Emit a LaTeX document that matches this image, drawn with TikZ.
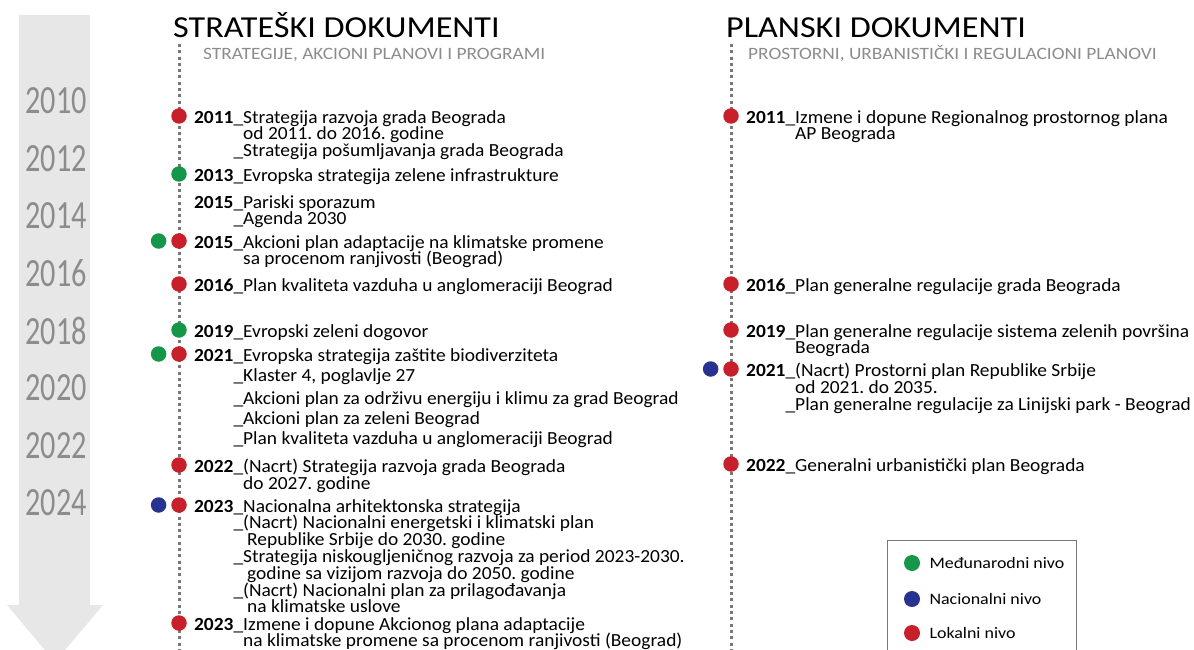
\documentclass[tikz,border=0pt]{standalone}
\usepackage{fontspec}
\setmainfont{Carlito}[FakeStretch=1.05]
\newfontfamily\widefont{Carlito}[FakeStretch=1.12]
\usetikzlibrary{positioning}
\frenchspacing
\definecolor{lokalni}{RGB}{200,32,42}
\definecolor{medjunarodni}{RGB}{22,150,72}
\definecolor{nacionalni}{RGB}{40,50,145}
\definecolor{osa}{RGB}{120,120,120}
\definecolor{strelica}{RGB}{231,231,232}
\definecolor{godina}{RGB}{140,140,140}
\tikzset{
  dot/.style={circle,fill=#1,inner sep=0,minimum size=15.5pt},
  legdot/.style={circle,fill=#1,inner sep=0,minimum size=16pt},
  entry/.style={anchor=north west,inner sep=0,align=left,font=\fontsize{18.5}{16.8}\selectfont},
  timeline/.style={osa,line width=3pt,dash pattern=on 3pt off 3.3pt},
  yearlabel/.style={godina,anchor=east,inner sep=0,xscale=0.72,font=\fontsize{40}{40}\selectfont},
  heading/.style={anchor=base west,inner sep=0,font=\widefont\fontsize{30.5}{30}\selectfont},
  subheading/.style={anchor=base west,inner sep=0,godina,font=\widefont\fontsize{17.3}{17}\selectfont},
  legtext/.style={anchor=west,font=\widefont\fontsize{16}{16}\selectfont}
}
\begin{document}
\begin{tikzpicture}[x=1pt,y=-1pt]
  \useasboundingbox (0,0) rectangle (1194,650);
  \clip (0,0) rectangle (1194,650);
  % strelica vremena
  \fill[strelica] (19,15) -- (90,15) -- (90,605) -- (103,605) -- (55,662) -- (7,605) -- (19,605) -- cycle;
  \foreach \g [count=\i from 0] in {2010,2012,2014,2016,2018,2020,2022,2024}
    \node[yearlabel] (g\g) at (87,{101+57.4*\i}) {\g};
  % naslovi
  \node[heading] (strat) at (173,38) {STRATEŠKI DOKUMENTI};
  \node[subheading] (stratsub) at (203,60) {STRATEGIJE, AKCIONI PLANOVI I PROGRAMI};
  \node[heading] (plan) at (726,38) {PLANSKI DOKUMENTI};
  \node[subheading] (plansub) at (748,60) {PROSTORNI, URBANISTIČKI I REGULACIONI PLANOVI};
  % vremenske ose
  \draw[timeline] (179,44) -- (179,660);
  \draw[timeline] (731,44) -- (731,660);

  % strateski dokumenti
  \node[dot=lokalni] (s2011) at (179,116) {};
  \node[entry] (t2011) at (243,110) {\llap{\textbf{2011}\_}Strategija razvoja grada Beograda\\od 2011. do 2016. godine\\\llap{\_}Strategija pošumljavanja grada Beograda};
  \node[dot=medjunarodni] (s2013) at (179,174) {};
  \node[entry] (t2013) at (243,168) {\llap{\textbf{2013}\_}Evropska strategija zelene infrastrukture};
  \node[entry] (t2015a) at (243,195) {\llap{\textbf{2015}\_}Pariski sporazum\\\llap{\_}Agenda 2030};
  \node[dot=lokalni] (s2015) at (179,241) {};
  \node[dot=medjunarodni,left=4.5pt of s2015] (s2015m) {};
  \node[entry] (t2015b) at (243,235) {\llap{\textbf{2015}\_}Akcioni plan adaptacije na klimatske promene\\sa procenom ranjivosti (Beograd)};
  \node[dot=lokalni] (s2016) at (179,284) {};
  \node[entry] (t2016) at (243,278) {\llap{\textbf{2016}\_}Plan kvaliteta vazduha u anglomeraciji Beograd};
  \node[dot=medjunarodni] (s2019) at (179,330) {};
  \node[entry] (t2019) at (243,324) {\llap{\textbf{2019}\_}Evropski zeleni dogovor};
  \node[dot=lokalni] (s2021) at (179,354) {};
  \node[dot=medjunarodni,left=4.5pt of s2021] (s2021m) {};
  \node[entry] (t2021) at (243,348) {\llap{\textbf{2021}\_}Evropska strategija zaštite biodiverziteta\\[4pt]
    \llap{\_}Klaster 4, poglavlje 27\\[6pt]
    \llap{\_}Akcioni plan za održivu energiju i klimu za grad Beograd\\[3pt]
    \llap{\_}Akcioni plan za zeleni Beograd\\[3pt]
    \llap{\_}Plan kvaliteta vazduha u anglomeraciji Beograd};
  \node[dot=lokalni] (s2022) at (179,465) {};
  \node[entry] (t2022) at (243,459) {\llap{\textbf{2022}\_}(Nacrt) Strategija razvoja grada Beograda\\do 2027. godine};
  \node[dot=lokalni] (s2023) at (179,505) {};
  \node[dot=nacionalni,left=4.5pt of s2023] (s2023n) {};
  \node[entry] (t2023) at (243,499) {\llap{\textbf{2023}\_}Nacionalna arhitektonska strategija\\
    \llap{\_}(Nacrt) Nacionalni energetski i klimatski plan\\
    \hspace{4pt}Republike Srbije do 2030. godine\\
    \llap{\_}Strategija niskougljeničnog razvoja za period 2023-2030.\\
    \hspace{4pt}godine sa vizijom razvoja do 2050. godine\\
    \llap{\_}(Nacrt) Nacionalni plan za prilagođavanja\\
    \hspace{4pt}na klimatske uslove};
  \node[dot=lokalni] (s2023b) at (179,623) {};
  \node[entry] (t2023b) at (243,617) {\llap{\textbf{2023}\_}Izmene i dopune Akcionog plana adaptacije\\na klimatske promene sa procenom ranjivosti (Beograd)};

  % planski dokumenti
  \node[dot=lokalni] (p2011) at (731,116) {};
  \node[entry] (q2011) at (795,110) {\llap{\textbf{2011}\_}Izmene i dopune Regionalnog prostornog plana\\AP Beograda};
  \node[dot=lokalni] (p2016) at (731,284) {};
  \node[entry] (q2016) at (795,278) {\llap{\textbf{2016}\_}Plan generalne regulacije grada Beograda};
  \node[dot=lokalni] (p2019) at (731,330) {};
  \node[entry] (q2019) at (795,324) {\llap{\textbf{2019}\_}Plan generalne regulacije sistema zelenih površina\\Beograda};
  \node[dot=lokalni] (p2021) at (731,369) {};
  \node[dot=nacionalni,left=4.5pt of p2021] (p2021n) {};
  \node[entry] (q2021) at (795,363) {\llap{\textbf{2021}\_}(Nacrt) Prostorni plan Republike Srbije\\od 2021. do 2035.\\\llap{\_}Plan generalne regulacije za Linijski park - Beograd};
  \node[dot=lokalni] (p2022) at (731,464) {};
  \node[entry] (q2022) at (795,458) {\llap{\textbf{2022}\_}Generalni urbanistički plan Beograda};

  % legenda
  \draw[osa,line width=1pt] (887,540) rectangle (1076,700);
  \node[legdot=medjunarodni] (lm) at (912,563) {};
  \node[legtext] (lmt) at (926,563) {Međunarodni nivo};
  \node[legdot=nacionalni] (ln) at (912,599) {};
  \node[legtext] (lnt) at (926,599) {Nacionalni nivo};
  \node[legdot=lokalni] (ll) at (912,633) {};
  \node[legtext] (llt) at (926,633) {Lokalni nivo};
\end{tikzpicture}
\end{document}
